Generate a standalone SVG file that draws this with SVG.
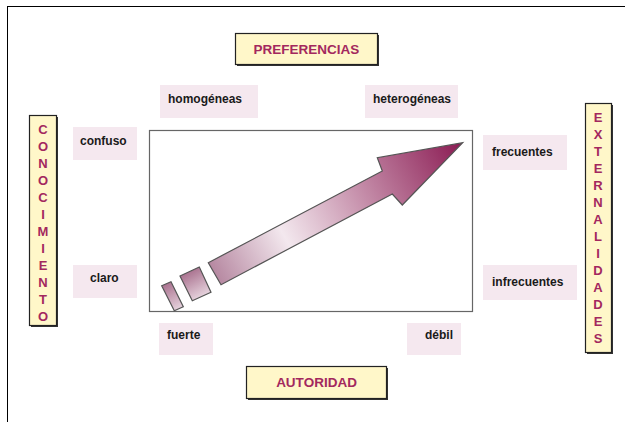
<svg xmlns="http://www.w3.org/2000/svg" width="625" height="422" viewBox="0 0 625 422">
<defs>
<style>
.frame{fill:none;stroke:#000;stroke-width:1}
.ybox{fill:#FFF7C9;stroke:#222;stroke-width:1.2}
.shd{fill:#333;stroke:none}
.pbox{fill:#F5E8EF;stroke:none}
.lbl{font-family:"Liberation Sans",Arial,sans-serif;font-weight:bold;font-size:12px;fill:#1a1a1a}
.ttl{font-family:"Liberation Sans",Arial,sans-serif;font-weight:bold;font-size:13.5px;fill:#A3285E}
.vt{font-family:"Liberation Sans",Arial,sans-serif;font-weight:bold;font-size:13px;fill:#A3285E;text-anchor:middle}
.arr{stroke:#555;stroke-width:1.2}
</style>
<linearGradient id="ag" gradientUnits="userSpaceOnUse" x1="190" y1="290" x2="463" y2="143">
<stop offset="0" stop-color="#A06585"/>
<stop offset="0.35" stop-color="#F3E8EE"/>
<stop offset="1" stop-color="#8A1A52"/>
</linearGradient>
<linearGradient id="bg" gradientUnits="userSpaceOnUse" x1="180" y1="268" x2="200" y2="305">
<stop offset="0" stop-color="#9B5A7C"/>
<stop offset="1" stop-color="#F3E8EE"/>
</linearGradient>
</defs>
<rect class="frame" x="7.5" y="6.5" width="700" height="500"/>

<g id="preferencias"><rect class="shd" x="237" y="35" width="142" height="31"/><rect class="ybox" x="235.5" y="33.5" width="142" height="31"/><text class="ttl" x="306.5" y="54" text-anchor="middle">PREFERENCIAS</text></g>
<g id="autoridad"><rect class="shd" x="248" y="368" width="140" height="32"/><rect class="ybox" x="246.5" y="366.5" width="140" height="32"/><text class="ttl" x="316.5" y="387" text-anchor="middle">AUTORIDAD</text></g>

<g id="conocimiento"><rect class="shd" x="31" y="117" width="27" height="210"/><rect class="ybox" x="29.5" y="115.5" width="27" height="210"/>
<text class="vt" x="43"><tspan x="43" y="134">C</tspan><tspan x="43" y="151">O</tspan><tspan x="43" y="168">N</tspan><tspan x="43" y="185">O</tspan><tspan x="43" y="202">C</tspan><tspan x="43" y="219">I</tspan><tspan x="43" y="236">M</tspan><tspan x="43" y="253">I</tspan><tspan x="43" y="270">E</tspan><tspan x="43" y="287">N</tspan><tspan x="43" y="304">T</tspan><tspan x="43" y="321">O</tspan></text></g>

<g id="externalidades"><rect class="shd" x="587" y="105" width="26" height="249"/><rect class="ybox" x="585.5" y="103.5" width="26" height="249"/>
<text class="vt" x="598"><tspan x="598" y="122">E</tspan><tspan x="598" y="139">X</tspan><tspan x="598" y="156">T</tspan><tspan x="598" y="173">E</tspan><tspan x="598" y="190">R</tspan><tspan x="598" y="207">N</tspan><tspan x="598" y="224">A</tspan><tspan x="598" y="241">L</tspan><tspan x="598" y="258">I</tspan><tspan x="598" y="275">D</tspan><tspan x="598" y="292">A</tspan><tspan x="598" y="309">D</tspan><tspan x="598" y="326">E</tspan><tspan x="598" y="343">S</tspan></text></g>

<g id="homogeneas"><rect class="pbox" x="160" y="85" width="98" height="33"/><text class="lbl" x="168" y="103">homogéneas</text></g>
<g id="heterogeneas"><rect class="pbox" x="365" y="85" width="93" height="33"/><text class="lbl" x="373" y="103">heterogéneas</text></g>
<g id="confuso"><rect class="pbox" x="73" y="127" width="64" height="33"/><text class="lbl" x="80" y="145">confuso</text></g>
<g id="claro"><rect class="pbox" x="73" y="265" width="64" height="33"/><text class="lbl" x="90" y="282">claro</text></g>
<g id="frecuentes"><rect class="pbox" x="483" y="135" width="84" height="35"/><text class="lbl" x="492" y="156">frecuentes</text></g>
<g id="infrecuentes"><rect class="pbox" x="483" y="265" width="94" height="35"/><text class="lbl" x="492" y="286">infrecuentes</text></g>
<g id="fuerte"><rect class="pbox" x="159" y="323" width="54" height="32"/><text class="lbl" x="167" y="339">fuerte</text></g>
<g id="debil"><rect class="pbox" x="407" y="323" width="54" height="32"/><text class="lbl" x="425" y="339">débil</text></g>

<g id="diagram-box">
<rect x="149.5" y="130.5" width="323" height="181" fill="#fff" stroke="#666" stroke-width="1.2"/>
</g>
<g id="connectors">
<path class="arr" fill="url(#ag)" d="M208.3,262.7 L382.3,171 L377.3,157.7 L462.7,142.7 L402.3,205 L392.3,194 L221,284.7 Z"/>
<path class="arr" fill="url(#bg)" d="M180,276 L199.3,267 L211,292.3 L192.3,300.7 Z"/>
<path class="arr" fill="url(#bg)" d="M161.7,285.7 L171,281.7 L183.3,306.7 L174.3,310.7 Z"/>
</g>
</svg>
